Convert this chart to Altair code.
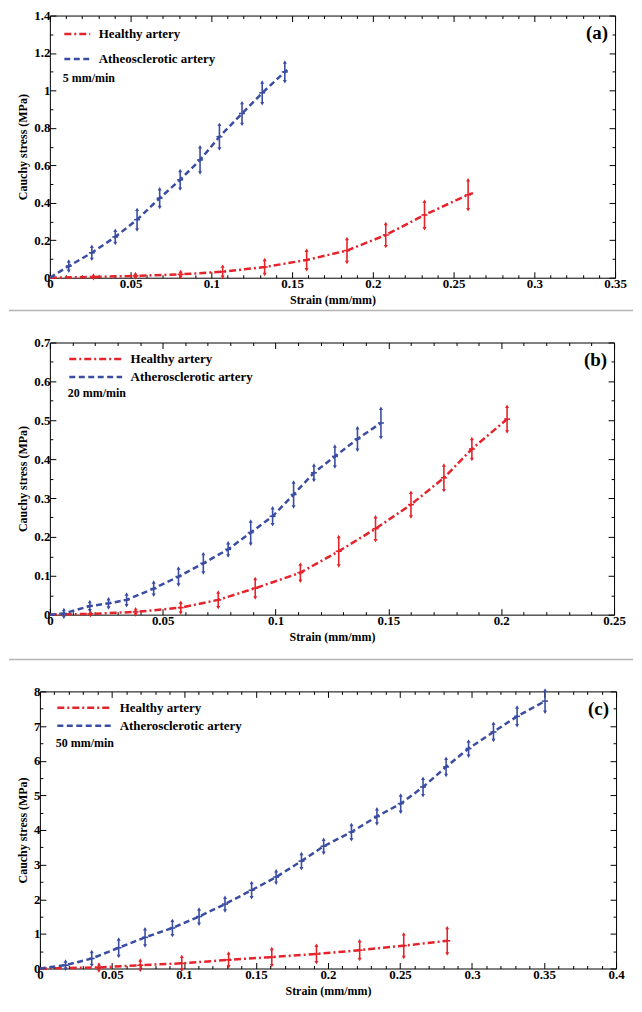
import altair as alt
import pandas as pd

FONT = "Liberation Serif"
RED = "#e4232b"
BLUE = "#3a4da3"
GRAY = "#b4b4b4"

# ---------------- Panel (a): 5 mm/min ----------------
a_names = ["Healthy artery", "Atheosclerotic artery"]
a_h_strain = [0, 0.027, 0.053, 0.081, 0.107, 0.133, 0.159, 0.184, 0.208, 0.232, 0.259, 0.262]
a_h_stress = [0, 0.004, 0.010, 0.018, 0.032, 0.057, 0.095, 0.145, 0.228, 0.335, 0.443, 0.452]
a_h_err = [0, 0.010, 0.012, 0.016, 0.030, 0.040, 0.052, 0.064, 0.062, 0.073, 0.080, 0]
a_a_strain = [0, 0.0117, 0.026, 0.0405, 0.054, 0.068, 0.0807, 0.093, 0.105, 0.119, 0.1315, 0.1455, 0.147]
a_a_stress = [0, 0.062, 0.133, 0.218, 0.310, 0.425, 0.523, 0.629, 0.753, 0.877, 0.987, 1.099, 1.11]
a_a_err = [0, 0.027, 0.035, 0.035, 0.055, 0.050, 0.050, 0.070, 0.066, 0.058, 0.058, 0.053, 0]

# ---------------- Panel (b): 20 mm/min ----------------
b_names = ["Healthy artery", "Atherosclerotic artery"]
b_h_strain = [0, 0.018, 0.038, 0.058, 0.0746, 0.091, 0.111, 0.128, 0.1443, 0.160, 0.1746, 0.187, 0.2026]
b_h_stress = [0, 0.002, 0.007, 0.018, 0.038, 0.068, 0.108, 0.163, 0.221, 0.283, 0.352, 0.426, 0.503]
b_h_err = [0, 0.005, 0.008, 0.014, 0.020, 0.025, 0.022, 0.038, 0.031, 0.032, 0.033, 0.027, 0.033]
b_a_strain = [0, 0.0062, 0.0177, 0.026, 0.034, 0.046, 0.057, 0.068, 0.079, 0.089, 0.0987, 0.108, 0.117,
              0.1263, 0.1363, 0.1467]
b_a_stress = [0, 0.003, 0.022, 0.029, 0.038, 0.067, 0.098, 0.132, 0.168, 0.211, 0.253, 0.309, 0.365,
              0.407, 0.452, 0.493]
b_a_err = [0, 0.010, 0.012, 0.012, 0.015, 0.017, 0.022, 0.025, 0.017, 0.030, 0.022, 0.032, 0.020,
           0.027, 0.029, 0.038]

# ---------------- Panel (c): 50 mm/min ----------------
c_names = ["Healthy artery", "Atherosclerotic artery"]
c_h_strain = [0, 0.041, 0.0697, 0.0985, 0.131, 0.161, 0.192, 0.222, 0.2526, 0.2828]
c_h_stress = [0, 0.03, 0.096, 0.15, 0.25, 0.33, 0.42, 0.53, 0.66, 0.80]
c_h_err = [0, 0.10, 0.15, 0.20, 0.20, 0.25, 0.25, 0.27, 0.34, 0.38]
c_a_strain = [0, 0.0178, 0.036, 0.0547, 0.073, 0.092, 0.1105, 0.1285, 0.147, 0.164, 0.1816, 0.197,
              0.2163, 0.234, 0.2505, 0.266, 0.282, 0.2976, 0.3149, 0.3313, 0.3507]
c_a_stress = [0, 0.096, 0.29, 0.60, 0.90, 1.17, 1.50, 1.86, 2.26, 2.64, 3.10, 3.53,
              3.94, 4.39, 4.76, 5.24, 5.82, 6.35, 6.83, 7.28, 7.72]
c_a_err = [0, 0.12, 0.20, 0.25, 0.25, 0.22, 0.22, 0.20, 0.22, 0.18, 0.22, 0.20,
           0.22, 0.22, 0.25, 0.25, 0.25, 0.22, 0.25, 0.27, 0.32]


def build_df(names, hs, hv, he, as_, av, ae):
    rows = []
    for s, v, e in zip(hs, hv, he):
        rows.append(dict(series=names[0], strain=s, stress=v, err=e))
    for s, v, e in zip(as_, av, ae):
        rows.append(dict(series=names[1], strain=s, stress=v, err=e))
    return pd.DataFrame(rows)


def tick_values(hi, step):
    n = int(round(hi / step))
    return [round(i * step, 6) for i in range(n + 1)]


def is_major(step):
    return f"abs(datum.value / {step} - round(datum.value / {step})) < 1e-6"


AX_LINE = dict(grid=False, domain=True, domainColor="black", domainWidth=1,
               tickColor="black", tickWidth=1, minExtent=0)
AX_TEXT = dict(labelFont=FONT, labelFontSize=13, labelFontWeight="bold", labelColor="black",
               titleFont=FONT, titleFontSize=12, titleFontWeight="bold", titleColor="black",
               labelOverlap=False, labelFlush=False, labelPadding=6)


def panel(df, names, xmax, xmaj, xmin, ymax, ymaj, ymin, w, h, shift, tag, rate,
          lx, ly, sym_len, row_pad, title_pad, sep_y):
    W = w + shift
    xs = alt.Scale(domain=[0, xmax], nice=False, zero=True, range=[shift, W])
    ys = alt.Scale(domain=[0, ymax], nice=False, zero=True)
    xv = tick_values(xmax, xmin)
    yv = tick_values(ymax, ymin)
    tx = is_major(xmaj)
    ty = is_major(ymaj)
    tsx = {"condition": {"test": tx, "value": -6}, "value": -3}
    tsy = {"condition": {"test": ty, "value": -6}, "value": -3}

    x_bottom = alt.Axis(orient="bottom", values=xv, title="Strain (mm/mm)", titlePadding=1,
                        labelExpr=f"{tx} ? format(datum.value, '~g') : ''", tickSize=tsx,
                        **AX_LINE, **AX_TEXT)
    y_left = alt.Axis(orient="left", values=yv, title="Cauchy stress (MPa)", titlePadding=4,
                      offset=-shift,
                      labelExpr=f"{ty} ? format(datum.value, '~g') : ''", tickSize=tsy,
                      **AX_LINE, **AX_TEXT)
    x_top = alt.Axis(orient="top", values=xv, title=None, labels=False, tickSize=tsx, **AX_LINE)
    y_right = alt.Axis(orient="right", values=yv, title=None, labels=False, tickSize=tsy, **AX_LINE)

    cs = alt.Scale(domain=names, range=[RED, BLUE])
    ds = alt.Scale(domain=names, range=[[7, 3, 2, 3], [6, 3.5]])
    leg = alt.Legend(title=rate, titleOrient="bottom", titleAnchor="start", orient="none",
                     legendX=lx + shift, legendY=ly, symbolType="stroke", symbolSize=sym_len ** 2,
                     symbolStrokeWidth=2.5, clipHeight=13, labelFont=FONT, labelFontSize=13,
                     labelFontWeight="bold", labelColor="black", labelOffset=7,
                     titleFont=FONT, titleFontSize=12, titleFontWeight="bold", titleColor="black",
                     titlePadding=title_pad, rowPadding=row_pad, padding=0)

    base = alt.Chart(df)
    line = base.mark_line(strokeWidth=2.5).encode(
        x=alt.X("strain:Q", scale=xs, axis=x_bottom),
        y=alt.Y("stress:Q", scale=ys, axis=y_left),
        color=alt.Color("series:N", scale=cs, legend=leg),
        strokeDash=alt.StrokeDash("series:N", scale=ds, legend=leg),
    )
    eb = base.transform_filter("datum.err > 0").transform_calculate(
        lo="datum.stress - datum.err", hi="datum.stress + datum.err")
    col = alt.Color("series:N", scale=cs, legend=None)
    xe = alt.X("strain:Q", scale=xs, axis=None)
    rules = eb.mark_rule(strokeWidth=1.6).encode(
        x=xe, y=alt.Y("lo:Q", scale=ys, axis=None), y2="hi:Q", color=col)
    up = eb.mark_point(shape="triangle-up", filled=True, size=16, opacity=1).encode(
        x=xe, y=alt.Y("hi:Q", scale=ys, axis=None), color=col)
    down = eb.mark_point(shape="triangle-down", filled=True, size=16, opacity=1).encode(
        x=xe, y=alt.Y("lo:Q", scale=ys, axis=None), color=col)
    cross = eb.mark_point(shape="stroke", filled=False, size=36, strokeWidth=1.6, opacity=1).encode(
        x=xe, y=alt.Y("stress:Q", scale=ys, axis=None), color=col)
    ghost = base.mark_point(opacity=0).encode(
        x=alt.X("strain:Q", scale=xs, axis=x_top),
        y=alt.Y("stress:Q", scale=ys, axis=y_right))

    label = alt.Chart(pd.DataFrame({"t": [tag]})).mark_text(
        align="right", baseline="middle", font=FONT, fontSize=19, fontWeight="bold", color="black"
    ).encode(x=alt.value(W - 7), y=alt.value(18), text="t:N")

    layers = [line, rules, up, down, cross, ghost, label]
    if sep_y is not None:
        sep = alt.Chart(pd.DataFrame({"k": [0]})).mark_rule(color=GRAY, strokeWidth=1.5).encode(
            x=alt.value(-31), x2=alt.value(595), y=alt.value(sep_y))
        layers.append(sep)

    return alt.layer(*layers).resolve_axis(
        x="independent", y="independent").properties(width=W, height=h)


pa = panel(build_df(a_names, a_h_strain, a_h_stress, a_h_err, a_a_strain, a_a_stress, a_a_err),
           a_names, 0.35, 0.05, 0.01, 1.4, 0.2, 0.1, 567, 263, 10, "(a)", "5 mm/min",
           13, 12, 26, 11, 7, 296)
pb = panel(build_df(b_names, b_h_strain, b_h_stress, b_h_err, b_a_strain, b_a_stress, b_a_err),
           b_names, 0.25, 0.05, 0.01, 0.7, 0.1, 0.05, 566, 273, 10, "(b)", "20 mm/min",
           18, 10, 53, 4, 4, 318)
pc = panel(build_df(c_names, c_h_strain, c_h_stress, c_h_err, c_a_strain, c_a_stress, c_a_err),
           c_names, 0.4, 0.05, 0.01, 8, 1, 0.5, 578, 278, 0, "(c)", "50 mm/min",
           16, 10, 54, 4, 5, None)

chart = alt.vconcat(pa, pb, pc, spacing=25).resolve_scale(
    x="independent", y="independent", color="independent", strokeDash="independent"
).properties(
    padding={"left": 0, "top": 0, "right": 0, "bottom": 0},
    background="white",
).configure_view(strokeWidth=0)

chart.save("out.html", embed_options={"renderer": "svg", "actions": False})
